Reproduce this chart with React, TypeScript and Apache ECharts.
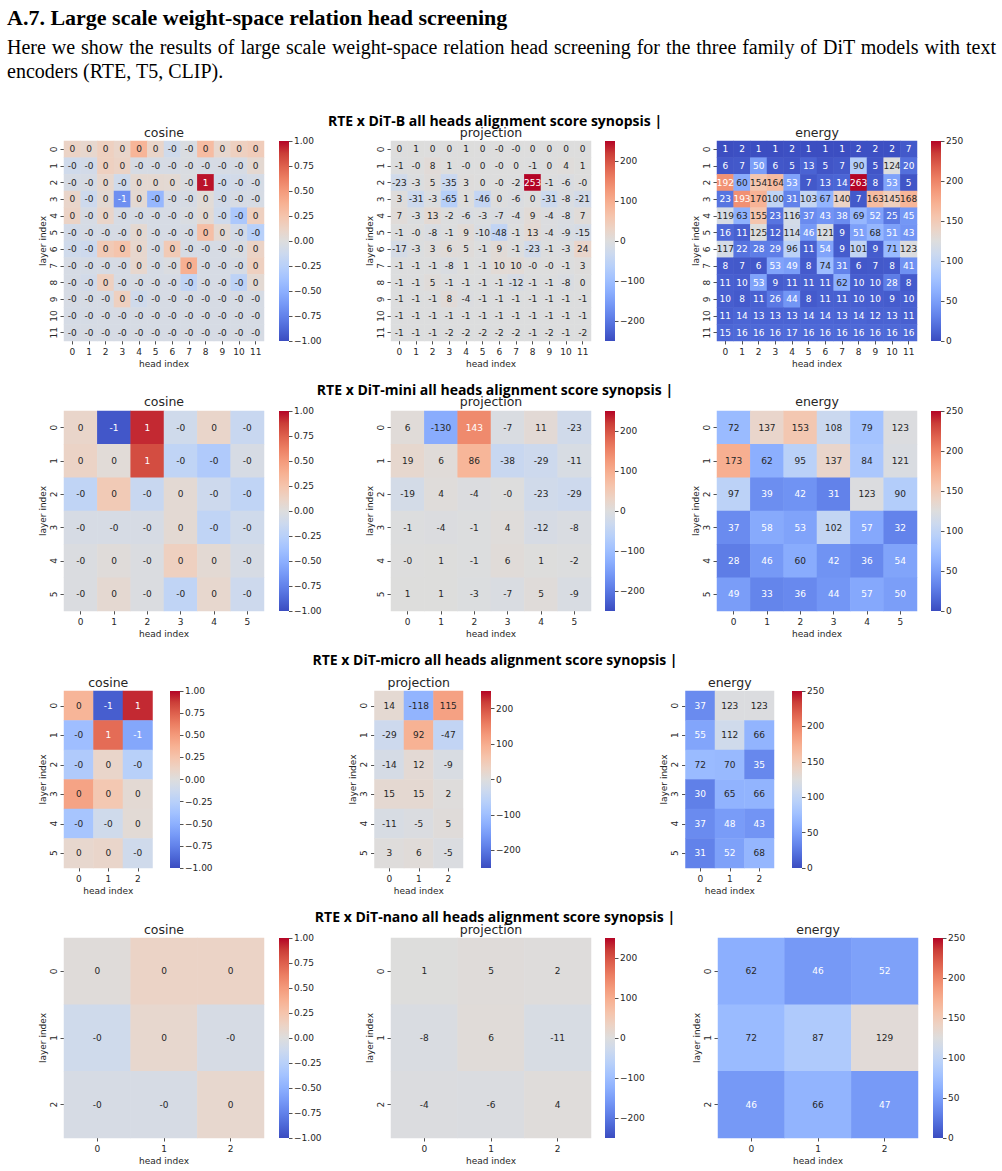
import { useEffect, useRef } from "react";
import * as echarts from "echarts";

// ---------- axis categories ----------
const heads12 = ["0", "1", "2", "3", "4", "5", "6", "7", "8", "9", "10", "11"];
const layers12 = ["0", "1", "2", "3", "4", "5", "6", "7", "8", "9", "10", "11"];
const heads6 = ["0", "1", "2", "3", "4", "5"];
const layers6 = ["0", "1", "2", "3", "4", "5"];
const heads3 = ["0", "1", "2"];
const layers3 = ["0", "1", "2"];

// ---------- colorbar ticks ----------
const cosineTicks = [-1, -0.75, -0.5, -0.25, 0, 0.25, 0.5, 0.75, 1];
const projectionTicks = [-200, -100, 0, 100, 200];
const energyTicks = [0, 50, 100, 150, 200, 250];

// ---------- DiT-B (12 layers x 12 heads) ----------
const cosineB = [
  [0.12, 0.08, 0.15, 0.1, 0.35, 0.1, -0.1, -0.03, 0.3, 0.08, 0.15, 0.18],
  [-0.1, -0.08, 0.15, 0.12, -0.05, -0.05, -0.05, -0.03, -0.05, -0.05, -0.05, 0.06],
  [-0.05, -0.05, 0.08, -0.1, 0.06, 0.06, 0.05, -0.02, 0.97, -0.1, -0.08, -0.06],
  [0.1, -0.12, 0.05, -0.68, 0.05, -0.45, -0.05, -0.05, 0.03, -0.08, -0.05, -0.05],
  [0.12, -0.05, 0.1, -0.05, -0.05, -0.05, -0.05, -0.03, 0.05, -0.1, -0.32, 0.15],
  [-0.08, -0.06, -0.05, -0.05, 0.06, -0.05, -0.05, -0.05, 0.28, 0.05, -0.08, -0.25],
  [-0.1, -0.12, 0.2, 0.25, 0.08, -0.05, 0.2, -0.05, -0.05, -0.05, -0.03, 0.12],
  [-0.05, -0.06, -0.05, -0.05, 0.08, -0.05, -0.02, 0.38, -0.05, -0.05, -0.05, 0.15],
  [-0.05, -0.08, 0.15, -0.05, -0.05, -0.05, -0.05, -0.2, -0.05, -0.05, -0.22, 0.05],
  [-0.05, -0.05, -0.05, 0.15, -0.1, -0.05, -0.05, -0.05, -0.05, -0.05, -0.05, -0.05],
  [-0.06, -0.06, -0.05, -0.05, -0.05, -0.05, -0.05, -0.05, -0.05, -0.05, -0.05, -0.05],
  [-0.05, -0.05, -0.05, -0.05, -0.05, -0.05, -0.05, -0.05, -0.05, -0.05, -0.05, -0.05],
];
const projectionB = [
  [0.2, 1, 0.2, 0.2, 1, 0.2, -0.2, -0.2, 0.2, 0.2, 0.2, 0.2],
  [-1, -0.2, 8, 1, -0.2, 0.2, -0.2, 0.2, -1, 0.2, 4, 1],
  [-23, -3, 5, -35, 3, 0.2, -0.2, -2, 253, -1, -6, -0.2],
  [3, -31, -3, -65, 1, -46, 0.2, -6, 0.2, -31, -8, -21],
  [7, -3, 13, -2, -6, -3, -7, -4, 9, -4, -8, 7],
  [-1, -0.2, -8, -1, 9, -10, -48, -1, 13, -4, -9, -15],
  [-17, -3, 3, 6, 5, -1, 9, -1, -23, -1, -3, 24],
  [-1, -1, -1, -8, 1, -1, 10, 10, -0.2, -0.2, -1, 3],
  [-1, -1, 5, -1, -1, -1, -1, -12, -1, -1, -8, 0.2],
  [-1, -1, -1, 8, -4, -1, -1, -1, -1, -1, -1, -1],
  [-1, -1, -1, -1, -1, -1, -1, -1, -1, -1, -1, -1],
  [-1, -1, -1, -2, -2, -2, -2, -2, -1, -2, -1, -2],
];
const energyB = [
  [1, 2, 1, 1, 2, 1, 1, 1, 2, 2, 2, 7],
  [6, 7, 50, 6, 5, 13, 5, 7, 90, 5, 124, 20],
  [192, 60, 154, 164, 53, 7, 13, 14, 263, 8, 53, 5],
  [23, 193, 170, 100, 31, 103, 67, 140, 7, 163, 145, 168],
  [119, 63, 155, 23, 116, 37, 43, 38, 69, 52, 25, 45],
  [16, 11, 125, 12, 114, 46, 121, 9, 51, 68, 51, 43],
  [117, 22, 28, 29, 96, 11, 54, 9, 101, 9, 71, 123],
  [8, 7, 6, 53, 49, 8, 74, 31, 6, 7, 8, 41],
  [11, 10, 53, 9, 11, 11, 11, 62, 10, 10, 28, 8],
  [10, 8, 11, 26, 44, 8, 11, 11, 10, 10, 9, 10],
  [11, 14, 13, 13, 13, 14, 14, 13, 14, 12, 13, 11],
  [15, 16, 16, 16, 17, 16, 16, 16, 16, 16, 16, 16],
];

// ---------- DiT-mini (6 layers x 6 heads) ----------
const cosineMini = [
  [0.1, -0.95, 0.92, -0.1, 0.1, -0.15],
  [0.12, 0.03, 0.82, -0.2, -0.3, -0.05],
  [-0.2, 0.2, -0.15, 0.05, -0.12, -0.2],
  [-0.05, -0.05, -0.05, 0.05, -0.2, -0.1],
  [-0.02, 0.02, -0.02, 0.15, 0.05, -0.05],
  [-0.02, 0.06, -0.02, -0.2, 0.08, -0.12],
];
const projectionMini = [
  [6, -130, 143, -7, 11, -23],
  [19, 6, 86, -38, -29, -11],
  [-19, 4, -4, -0.2, -23, -29],
  [-1, -4, -1, 4, -12, -8],
  [-0.2, 1, -1, 6, 1, -2],
  [1, 1, -3, -7, 5, -9],
];
const energyMini = [
  [72, 137, 153, 108, 79, 123],
  [173, 62, 95, 137, 84, 121],
  [97, 39, 42, 31, 123, 90],
  [37, 58, 53, 102, 57, 32],
  [28, 46, 60, 42, 36, 54],
  [49, 33, 36, 44, 57, 50],
];

// ---------- DiT-micro (6 layers x 3 heads) ----------
const cosineMicro = [
  [0.35, -0.92, 0.92],
  [-0.4, 0.7, -0.55],
  [-0.3, 0.1, -0.25],
  [0.45, 0.22, 0.05],
  [-0.35, -0.1, 0.04],
  [0.08, 0.1, -0.1],
];
const projectionMicro = [
  [14, -118, 115],
  [-29, 92, -47],
  [-14, 12, -9],
  [15, 15, 2],
  [-11, -5, 5],
  [3, 6, -5],
];
const energyMicro = [
  [37, 123, 123],
  [55, 112, 66],
  [72, 70, 35],
  [30, 65, 66],
  [37, 48, 43],
  [31, 52, 68],
];

// ---------- DiT-nano (3 layers x 3 heads) ----------
const cosineNano = [
  [0.02, 0.12, 0.12],
  [-0.1, 0.08, -0.05],
  [-0.05, -0.05, 0.08],
];
const projectionNano = [
  [1, 5, 2],
  [-8, 6, -11],
  [-4, -6, 4],
];
const energyNano = [
  [62, 46, 52],
  [72, 87, 129],
  [46, 66, 47],
];

// ---------- coolwarm colormap ----------
const COOLWARM: number[][] = [
  [59, 76, 192], [77, 104, 215], [98, 130, 234], [119, 154, 247],
  [141, 176, 254], [163, 194, 255], [184, 208, 249], [204, 217, 238],
  [221, 221, 221], [236, 211, 197], [245, 196, 172], [247, 177, 147],
  [244, 154, 123], [236, 127, 99], [222, 96, 77], [203, 62, 56],
  [180, 4, 38],
];
const toHex = (c: number[]) =>
  "#" + c.map((v) => Math.round(v).toString(16).padStart(2, "0")).join("");
const COOLWARM_HEX = COOLWARM.map(toHex);
const GRADIENT_STOPS = COOLWARM_HEX.map((color, i) => ({
  offset: i / (COOLWARM_HEX.length - 1),
  color,
}));

function coolwarm(t: number): number[] {
  const tt = Math.max(0, Math.min(1, t));
  const pos = tt * (COOLWARM.length - 1);
  const i = Math.min(Math.floor(pos), COOLWARM.length - 2);
  const f = pos - i;
  return COOLWARM[i].map((a, k) => a + (COOLWARM[i + 1][k] - a) * f);
}

// dark text on light cells, white text on dark cells
function annotColor(v: number, min: number, max: number) {
  const rgb = coolwarm((v - min) / (max - min)).map((c) => {
    const s = c / 255;
    return s <= 0.03928 ? s / 12.92 : Math.pow((s + 0.055) / 1.055, 2.4);
  });
  const lum = 0.2126 * rgb[0] + 0.7152 * rgb[1] + 0.0722 * rgb[2];
  return lum > 0.408 ? "#262626" : "#ffffff";
}

// integer annotation, keeping the sign of small negatives ("-0")
function fmtCell(v: number) {
  const r = Math.round(v);
  if (r === 0) return v < 0 ? "-0" : "0";
  return String(r);
}
const unicodeMinus = (s: string) => s.replace("-", "\u2212");

const METRICS = [
  { title: "cosine", min: -1, max: 1, ticks: cosineTicks, fmt: (v: number) => unicodeMinus(v.toFixed(2)) },
  { title: "projection", min: -250, max: 250, ticks: projectionTicks, fmt: (v: number) => unicodeMinus(String(v)) },
  { title: "energy", min: 0, max: 250, ticks: energyTicks, fmt: (v: number) => String(v) },
];

const MODELS = [
  { name: "DiT-B", heads: heads12, layers: layers12, values: [cosineB, projectionB, energyB] },
  { name: "DiT-mini", heads: heads6, layers: layers6, values: [cosineMini, projectionMini, energyMini] },
  { name: "DiT-micro", heads: heads3, layers: layers6, values: [cosineMicro, projectionMicro, energyMicro] },
  { name: "DiT-nano", heads: heads3, layers: layers3, values: [cosineNano, projectionNano, energyNano] },
];

// panel placement for each model row
const LAYOUT = [
  { sup: 120, title: 132, top: 141, h: 200, w: 200, lefts: [64, 391, 717], cb: [279, 605, 931] },
  { sup: 389, title: 401, top: 411, h: 200, w: 200, lefts: [64, 391, 717], cb: [279, 605, 931] },
  { sup: 659, title: 682, top: 691, h: 177, w: 88.5, lefts: [64, 374.5, 685.5], cb: [170, 481, 792] },
  { sup: 916, title: 929, top: 938, h: 200, w: 200, lefts: [64, 391, 718], cb: [279, 605, 933] },
];

const SANS = "DejaVu Sans";
const INK = "#262626";

function buildOption() {
  const grid: any[] = [];
  const xAxis: any[] = [];
  const yAxis: any[] = [];
  const series: any[] = [];
  const visualMap: any[] = [];
  const graphic: any[] = [];

  MODELS.forEach((m, r) => {
    const L = LAYOUT[r];
    graphic.push({
      type: "text",
      x: 495,
      y: L.sup,
      z: 10,
      style: {
        text: `RTE x ${m.name} all heads alignment score synopsis |`,
        fontFamily: "Open Sans",
        fontWeight: "bold",
        fontSize: 14,
        fill: "#000",
        align: "center",
        verticalAlign: "middle",
      },
    });

    METRICS.forEach((met, k) => {
      const rows = m.values[k];
      const gi = grid.length;
      grid.push({ left: L.lefts[k], top: L.top, width: L.w, height: L.h });
      xAxis.push({
        type: "category",
        gridIndex: gi,
        data: m.heads,
        position: "bottom",
        axisLine: { show: false },
        axisTick: { show: true, alignWithLabel: true, interval: 0, length: 3.5, lineStyle: { color: INK, width: 0.8 } },
        axisLabel: { interval: 0, fontSize: 9, fontFamily: SANS, color: INK, margin: 6 },
        splitLine: { show: false },
        name: "head index",
        nameLocation: "middle",
        nameGap: 18,
        nameTextStyle: { fontSize: 9, fontFamily: SANS, color: INK },
      });
      yAxis.push({
        type: "category",
        gridIndex: gi,
        data: m.layers,
        inverse: true,
        axisLine: { show: false },
        axisTick: { show: true, alignWithLabel: true, interval: 0, length: 3.5, lineStyle: { color: INK, width: 0.8 } },
        axisLabel: { interval: 0, rotate: 90, fontSize: 9, fontFamily: SANS, color: INK, margin: 6 },
        splitLine: { show: false },
        name: "layer index",
        nameLocation: "middle",
        nameRotate: 90,
        nameGap: 17,
        nameTextStyle: { fontSize: 9, fontFamily: SANS, color: INK },
      });
      const si = series.length;
      series.push({
        type: "heatmap",
        xAxisIndex: gi,
        yAxisIndex: gi,
        data: rows.flatMap((row, ri) =>
          row.map((v, ci) => ({
            value: [ci, ri, v],
            label: { color: annotColor(v, met.min, met.max) },
          }))
        ),
        label: {
          show: true,
          fontSize: 9,
          fontFamily: SANS,
          formatter: (p: any) => fmtCell(p.value[2]),
        },
        emphasis: { disabled: true },
      });
      visualMap.push({
        type: "continuous",
        show: false,
        seriesIndex: si,
        dimension: 2,
        min: met.min,
        max: met.max,
        inRange: { color: COOLWARM_HEX },
      });

      // colorbar
      const cbi = grid.length;
      grid.push({ left: L.cb[k], top: L.top, width: 10, height: L.h });
      xAxis.push({ type: "category", gridIndex: cbi, data: [""], show: false });
      yAxis.push({
        type: "value",
        gridIndex: cbi,
        min: met.min,
        max: met.max,
        position: "right",
        axisLine: { show: false },
        splitLine: { show: false },
        axisTick: { show: true, length: 3.5, customValues: met.ticks, lineStyle: { color: INK, width: 0.8 } },
        axisLabel: {
          customValues: met.ticks,
          formatter: (v: number) => met.fmt(v),
          fontSize: 9,
          fontFamily: SANS,
          color: INK,
          margin: 5,
        },
      });
      series.push({
        type: "custom",
        xAxisIndex: cbi,
        yAxisIndex: cbi,
        data: [[0, met.min, met.max]],
        renderItem: (_params: any, api: any) => {
          const lo = api.coord([0, api.value(1)]);
          const hi = api.coord([0, api.value(2)]);
          const w = api.size([1, 0])[0];
          return {
            type: "rect",
            shape: { x: lo[0] - w / 2, y: hi[1], width: w, height: lo[1] - hi[1] },
            style: { fill: new echarts.graphic.LinearGradient(0, 1, 0, 0, GRADIENT_STOPS) },
          };
        },
      });

      graphic.push({
        type: "text",
        x: L.lefts[k] + L.w / 2,
        y: L.title,
        style: {
          text: met.title,
          fontFamily: SANS,
          fontSize: 12.5,
          fill: INK,
          align: "center",
          verticalAlign: "middle",
        },
      });
    });
  });

  return {
    animation: false,
    backgroundColor: "#ffffff",
    grid,
    xAxis,
    yAxis,
    visualMap,
    series,
    graphic,
  };
}

export default function App() {
  const ref = useRef<HTMLDivElement>(null);

  useEffect(() => {
    if (!ref.current) return;
    const chart = echarts.init(ref.current, undefined, { renderer: "svg" });
    chart.setOption(buildOption() as any);
    return () => chart.dispose();
  }, []);

  const serif = '"Liberation Serif", "Times New Roman", serif';

  return (
    <div style={{ position: "absolute", left: 0, top: 0, width: 1002, height: 1171, background: "#fff" }}>
      <div ref={ref} style={{ position: "absolute", left: 0, top: 0, width: 1002, height: 1171 }} />
      <div
        style={{
          position: "absolute",
          left: 7,
          top: 5.5,
          fontFamily: serif,
          fontWeight: "bold",
          fontSize: 22,
          lineHeight: "24px",
          whiteSpace: "nowrap",
          color: "#000",
        }}
      >
        A.7. Large scale weight-space relation head screening
      </div>
      <div
        style={{
          position: "absolute",
          left: 7,
          top: 34.5,
          width: 989,
          fontFamily: serif,
          fontSize: 20,
          lineHeight: "24.5px",
          whiteSpace: "nowrap",
          textAlign: "justify",
          textAlignLast: "justify",
          color: "#000",
        }}
      >
        Here we show the results of large scale weight-space relation head screening for the three family of DiT models with text
      </div>
      <div
        style={{
          position: "absolute",
          left: 7,
          top: 59,
          fontFamily: serif,
          fontSize: 20,
          lineHeight: "24.5px",
          whiteSpace: "nowrap",
          color: "#000",
        }}
      >
        encoders (RTE, T5, CLIP).
      </div>
    </div>
  );
}
